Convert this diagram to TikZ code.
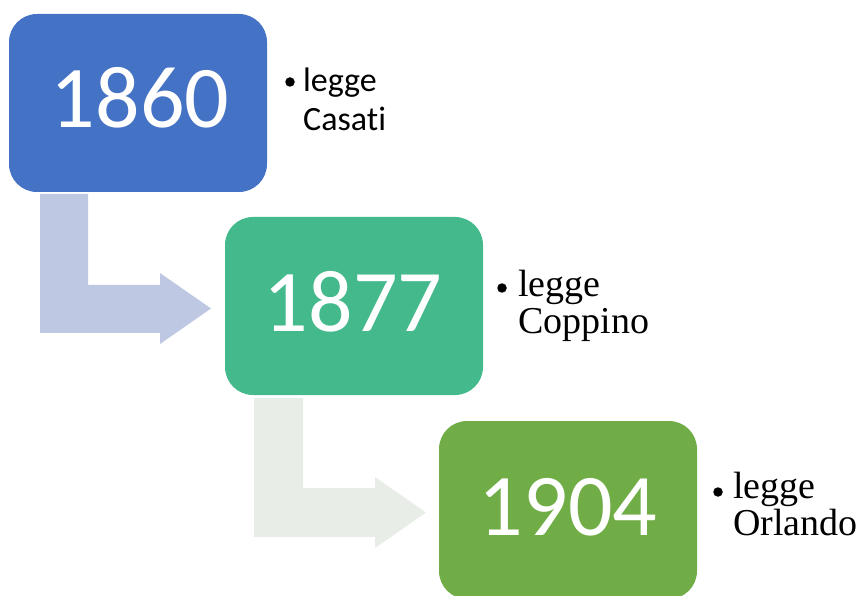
\documentclass[tikz,border=0pt]{standalone}
\usepackage{fontspec}
\setmainfont{Liberation Serif}
\newfontfamily\carlito[Ligatures=NoCommon]{Carlito}
\definecolor{boxA}{HTML}{4472C4}
\definecolor{boxB}{HTML}{44B98C}
\definecolor{boxC}{HTML}{70AD47}
\definecolor{arrA}{HTML}{BEC8E3}
\definecolor{arrB}{HTML}{E9EDE7}
\tikzset{
  yearbox/.style={rounded corners=28pt, minimum width=258pt, minimum height=178pt, inner sep=0pt, draw=none},
  yeartext/.style={text=white, inner sep=0pt, font=\carlito\fontsize{88}{90}\selectfont},
  sanslbl/.style={inner sep=0pt, anchor=base west, font=\carlito\fontsize{34}{40}\selectfont},
  seriflbl/.style={inner sep=0pt, anchor=base west, font=\fontsize{38}{40}\selectfont},
  bul/.style={circle, fill=black, minimum size=9.5pt, inner sep=0pt},
}
\begin{document}
\begin{tikzpicture}[x=1pt,y=-1pt]
\useasboundingbox (0,0) rectangle (863,596);
% bent arrows
\fill[arrA] (40,194) -- (88,194) -- (88,285) -- (160,285) -- (160,273) -- (211,308.5) -- (160,344) -- (160,333) -- (40,333) -- cycle;
\fill[arrB] (254,398) -- (303,398) -- (303,488) -- (375,488) -- (375,477) -- (426,512.5) -- (375,548) -- (375,537) -- (254,537) -- cycle;
% boxes
\node[yearbox, fill=boxA] (b1) at (138,103) {};
\node[yearbox, fill=boxB] (b2) at (354,306) {};
\node[yearbox, fill=boxC] (b3) at (568,510) {};
\node[yeartext] (y1) at (140,98) {1860};
\node[yeartext] (y2) at (353,302) {1877};
\node[yeartext] (y3) at (568,507) {1904};
% labels
\node[bul] (d1) at (290,82) {};
\node[sanslbl] (l1a) at (303,92) {legge};
\node[sanslbl] (l1b) at (303,131) {Casati};
\node[bul] (d2) at (502,288) {};
\node[seriflbl] (l2a) at (518,297) {legge};
\node[seriflbl] (l2b) at (518,334) {Coppino};
\node[bul] (d3) at (718,492) {};
\node[seriflbl] (l3a) at (733,498) {legge};
\node[seriflbl] (l3b) at (733,535) {Orlando};
\end{tikzpicture}
\end{document}
